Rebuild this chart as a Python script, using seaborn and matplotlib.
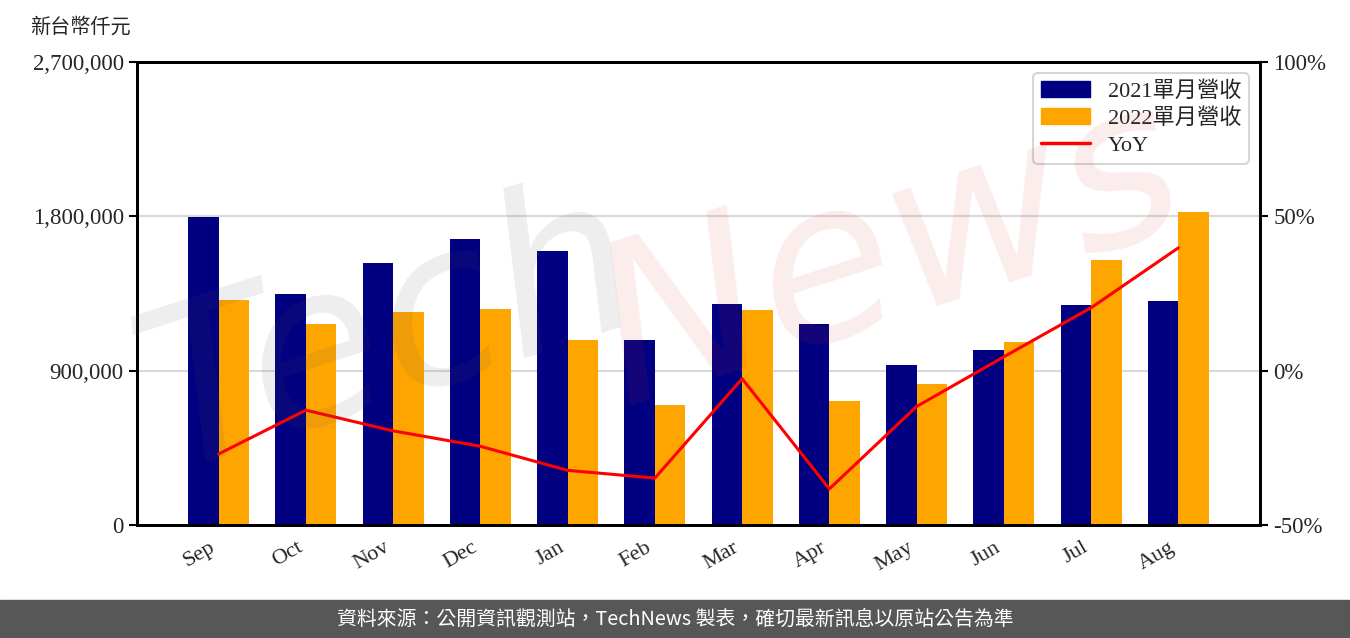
import matplotlib
matplotlib.use("Agg")
import matplotlib.pyplot as plt
from matplotlib.patches import Rectangle
from matplotlib.lines import Line2D
import seaborn as sns
import pandas as pd
import numpy as np

months = ["Sep", "Oct", "Nov", "Dec", "Jan", "Feb", "Mar", "Apr", "May", "Jun", "Jul", "Aug"]
rev_2021 = [1796000, 1347000, 1528000, 1668000, 1598000, 1079000,
            1289000, 1172000, 933000, 1021000, 1283000, 1306000]
rev_2022 = [1312000, 1172000, 1242000, 1260000, 1079000, 700000,
            1254000, 723000, 822000, 1067000, 1545000, 1825000]
yoy = [-27.0, -12.8, -19.5, -24.5, -32.3, -34.8, -2.6, -38.3, -11.6, 4.5, 20.4, 39.8]
series_names = ["2021單月營收", "2022單月營收"]

sns.set_style("white")
plt.rcParams["font.family"] = ["Liberation Serif", "Noto Sans CJK TC", "DejaVu Sans"]

df = pd.DataFrame({
    "month": months * 2,
    "revenue": rev_2021 + rev_2022,
    "series": [series_names[0]] * 12 + [series_names[1]] * 12,
})

fig = plt.figure(figsize=(13.5, 6.38), dpi=100)
ax = fig.add_axes([137 / 1350, 1 - 525 / 638, (1260 - 137) / 1350, (525 - 62) / 638])

sns.barplot(data=df, x="month", y="revenue", hue="series", order=months,
            palette=["#000080", "#ffa500"], width=0.7, saturation=1,
            errorbar=None, linewidth=0, edgecolor="none", ax=ax, zorder=2)
ax.set_ylim(0, 2700000)
ax.set_yticks([0, 900000, 1800000, 2700000])
ax.set_yticklabels(["0", "900,000", "1,800,000", "2,700,000"], fontsize=16.5)
ax.set_xlabel("")
ax.set_ylabel("")
ax.grid(axis="y", color="#d9d9d9", linewidth=1.5, zorder=0)
ax.set_axisbelow(True)
ax.tick_params(axis="both", direction="out", length=6, width=1.5, color="black")
plt.setp(ax.get_xticklabels(), rotation=30, ha="right", fontsize=16, rotation_mode="default")
for s in ax.spines.values():
    s.set_linewidth(2)
    s.set_color("black")
if ax.get_legend():
    ax.get_legend().remove()

ax2 = ax.twinx()
sns.lineplot(x=np.arange(len(months)), y=yoy, color="red", linewidth=2.2, ax=ax2)
ax2.set_ylim(-50, 100)
ax2.set_yticks([-50, 0, 50, 100])
ax2.set_yticklabels(["-50%", "0%", "50%", "100%"], fontsize=16.5)
ax2.tick_params(axis="y", direction="out", length=6, width=1.5, color="black")
for s in ax2.spines.values():
    s.set_linewidth(2)
    s.set_color("black")

handles = [Rectangle((0, 0), 1, 1, color="#000080"),
           Rectangle((0, 0), 1, 1, color="#ffa500"),
           Line2D([], [], color="red", linewidth=2.5)]
leg = ax2.legend(handles, series_names + ["YoY"], loc="upper right", fontsize=16,
                 frameon=True, fancybox=True, edgecolor="#cccccc",
                 handlelength=2.2, borderpad=0.35, labelspacing=0.3)
leg.get_frame().set_linewidth(1.5)

fig.text(30 / 1350, 1 - 27 / 638, "新台幣仟元", fontsize=14.5, va="center", ha="left",
         family=["Noto Sans CJK TC"])

# watermark
fig.text(390 / 1350, 1 - 335 / 638, "Tech", fontsize=160, color="#555555", alpha=0.1,
         rotation=18, ha="center", va="center", style="italic",
         family=["DejaVu Sans"], zorder=10)
fig.text(890 / 1350, 1 - 255 / 638, "News", fontsize=160, color="#dd3333", alpha=0.09,
         rotation=18, ha="center", va="center", style="italic",
         family=["DejaVu Sans"], zorder=10)

# footer
fig.patches.append(Rectangle((0, 0), 1, 38 / 638, transform=fig.transFigure,
                             color="#575757", zorder=0))
fig.text(0.5, 19 / 638, "資料來源：公開資訊觀測站，TechNews 製表，確切最新訊息以原站公告為準",
         color="white", fontsize=14.3, ha="center", va="center",
         family=["Noto Sans CJK TC", "DejaVu Sans"])

fig.savefig("out.png", dpi=100)
